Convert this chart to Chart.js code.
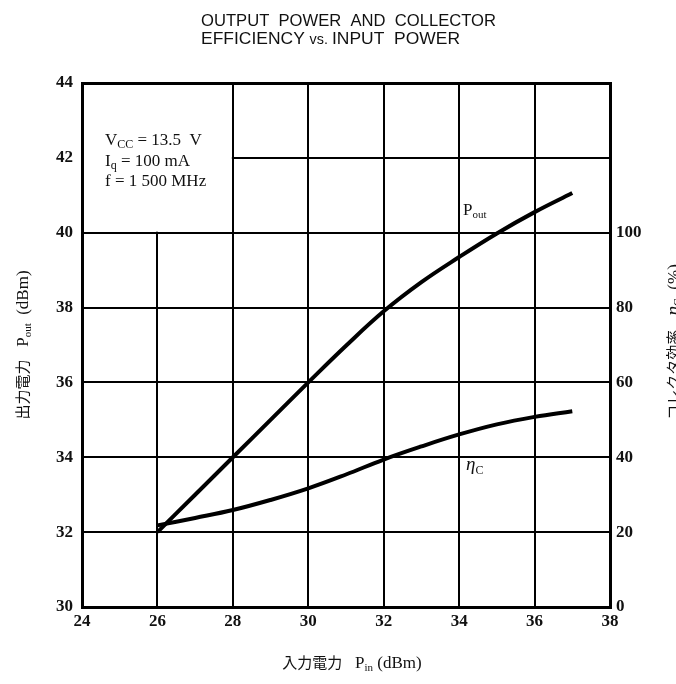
<!DOCTYPE html>
<html>
<head>
<meta charset="utf-8">
<script src="https://cdn.jsdelivr.net/npm/chart.js@4/dist/chart.umd.min.js"></script>
<style>
  html, body { margin: 0; padding: 0; background: #fff; }
  #chart { display: block; }
</style>
</head>
<body>
<canvas id="chart" width="676" height="684"></canvas>
<script>
// Input power (dBm) and the two curves
const pinValues = [26, 27, 28, 29, 30, 31, 32, 33, 34, 35, 36, 37];
const poutValues = [32.0, 33.0, 34.0, 35.0, 36.0, 36.98, 37.9, 38.68, 39.35, 39.98, 40.55, 41.06];
const effValues = [21.8, 23.8, 25.9, 28.6, 31.7, 35.4, 39.4, 42.9, 46.1, 48.8, 50.8, 52.3];

// Axis ranges / tick labels
const xTicks = [24, 26, 28, 30, 32, 34, 36, 38];
const poutTicks = [30, 32, 34, 36, 38, 40, 42, 44];
const effTicks = [0, 20, 40, 60, 80, 100];

const SERIF = "'Liberation Serif', 'DejaVu Serif', serif";
const NARROW = "'Liberation Sans Narrow', 'Liberation Sans', 'DejaVu Sans Condensed', sans-serif";
const CJK = "'Noto Sans CJK JP', 'Noto Sans CJK SC', sans-serif";

function toPoints(xs, ys) {
  return xs.map((x, i) => ({ x: x, y: ys[i] }));
}

// draws text pieces, some of them as subscripts: [text, font, dy]
function drawRich(ctx, parts, x, y) {
  let cx = x;
  parts.forEach(([text, font, dy]) => {
    ctx.font = font;
    ctx.fillText(text, cx, y + (dy || 0));
    cx += ctx.measureText(text).width;
  });
  return cx - x;
}

function richWidth(ctx, parts) {
  let w = 0;
  parts.forEach(([text, font]) => {
    ctx.font = font;
    w += ctx.measureText(text).width;
  });
  return w;
}

// stretch/squeeze a line of text to a target width
function fitText(ctx, text, x, y, width, font) {
  ctx.save();
  ctx.font = font;
  const w = ctx.measureText(text).width;
  ctx.translate(x, y);
  ctx.scale(width / w, 1);
  ctx.fillText(text, 0, 0);
  ctx.restore();
}

const textPlugin = {
  id: "textPlugin",
  beforeDatasetsDraw(chart) {
    // blank box behind the operating conditions
    const { ctx, scales } = chart;
    const x0 = scales.x.getPixelForValue(24) + 2;
    const x1 = scales.x.getPixelForValue(28) - 1;
    const y0 = scales.y.getPixelForValue(44) + 2;
    const y1 = scales.y.getPixelForValue(40) - 1;
    ctx.save();
    ctx.fillStyle = "#fff";
    ctx.fillRect(x0, y0, x1 - x0, y1 - y0);
    ctx.restore();
  },
  afterDraw(chart) {
    const ctx = chart.ctx;
    ctx.save();
    ctx.fillStyle = "#111";
    ctx.textBaseline = "alphabetic";
    ctx.textAlign = "left";

    // title
    fitText(ctx, "OUTPUT  POWER  AND  COLLECTOR", 201, 26, 295, "17px " + NARROW);
    const l2 = [["EFFICIENCY ", "17px " + NARROW], ["vs. ", "14px " + NARROW], ["INPUT  POWER", "17px " + NARROW]];
    ctx.save();
    const w2 = richWidth(ctx, l2);
    ctx.translate(201, 44);
    ctx.scale(259 / w2, 1);
    drawRich(ctx, l2, 0, 0);
    ctx.restore();

    // operating conditions
    const big = "17px " + SERIF;
    const sub = "12px " + SERIF;
    drawRich(ctx, [["V", big], ["CC", sub, 3], [" = 13.5  V", big]], 105, 145);
    drawRich(ctx, [["I", big], ["q", sub, 3], [" = 100 mA", big]], 105, 166);
    drawRich(ctx, [["f = 1 500 MHz", big]], 105, 186);

    // curve labels
    drawRich(ctx, [["P", big], ["out", "11px " + SERIF, 3]], 463, 215);
    drawRich(ctx, [["η", "italic 19px " + SERIF], ["C", "12px " + SERIF, 4]], 466, 470);

    // x axis title
    const xt = [["入力電力", "15px " + CJK], ["   P", big], ["in", "11px " + SERIF, 3], [" (dBm)", big]];
    drawRich(ctx, xt, 352 - richWidth(ctx, xt) / 2, 668);

    // left axis title (reads bottom to top)
    const lt = [["出力電力", "15px " + CJK], ["   P", big], ["out", "11px " + SERIF, 3], ["  (dBm)", big]];
    ctx.save();
    ctx.translate(28, 345);
    ctx.rotate(-Math.PI / 2);
    drawRich(ctx, lt, -richWidth(ctx, lt) / 2, 0);
    ctx.restore();

    // right axis title (reads bottom to top, runs off the edge)
    const rt = [["コレクタ効率", "15px " + CJK], ["   η", "italic 19px " + SERIF], ["C", "12px " + SERIF, 3], ["  (%)", big]];
    ctx.save();
    ctx.translate(679, 342);
    ctx.rotate(-Math.PI / 2);
    drawRich(ctx, rt, -richWidth(ctx, rt) / 2, 0);
    ctx.restore();

    ctx.restore();
  }
};

const edgeWidth = (min, max) => (c) =>
  c.tick && (c.tick.value === min || c.tick.value === max) ? 3 : 2;

const tickFont = { family: SERIF, size: 17, weight: "bold" };

new Chart(document.getElementById("chart"), {
  type: "line",
  data: {
    datasets: [
      {
        label: "Pout",
        data: toPoints(pinValues, poutValues),
        yAxisID: "y",
        borderColor: "#000",
        borderWidth: 4,
        pointRadius: 0,
        tension: 0.4,
        fill: false
      },
      {
        label: "ηC",
        data: toPoints(pinValues, effValues),
        yAxisID: "y2",
        borderColor: "#000",
        borderWidth: 4,
        pointRadius: 0,
        tension: 0.4,
        fill: false
      }
    ]
  },
  options: {
    responsive: false,
    animation: false,
    layout: { padding: { top: 83, left: 0, right: 0, bottom: 0 } },
    plugins: {
      legend: { display: false },
      title: { display: false },
      tooltip: { enabled: false }
    },
    scales: {
      x: {
        type: "linear",
        min: xTicks[0],
        max: xTicks[xTicks.length - 1],
        afterBuildTicks: (s) => { s.ticks = xTicks.map((v) => ({ value: v })); },
        afterFit: (s) => { s.height = 77; },
        grid: { color: "#000", lineWidth: edgeWidth(24, 38), drawTicks: false },
        border: { color: "#000", width: 3 },
        ticks: { color: "#111", font: tickFont, padding: 4, maxRotation: 0 }
      },
      y: {
        type: "linear",
        position: "left",
        min: poutTicks[0],
        max: poutTicks[poutTicks.length - 1],
        afterBuildTicks: (s) => { s.ticks = poutTicks.map((v) => ({ value: v })); },
        afterFit: (s) => { s.width = 82; },
        grid: { color: "#000", lineWidth: edgeWidth(30, 44), drawTicks: false },
        border: { color: "#000", width: 3 },
        ticks: { color: "#111", font: tickFont, padding: 9 }
      },
      y2: {
        type: "linear",
        position: "right",
        min: 0,
        max: 140,
        afterBuildTicks: (s) => { s.ticks = effTicks.map((v) => ({ value: v })); },
        afterFit: (s) => { s.width = 66; },
        grid: { display: false, drawTicks: false },
        border: { color: "#000", width: 3 },
        ticks: { color: "#111", font: tickFont, padding: 6 }
      }
    }
  },
  plugins: [textPlugin]
});
</script>
</body>
</html>
